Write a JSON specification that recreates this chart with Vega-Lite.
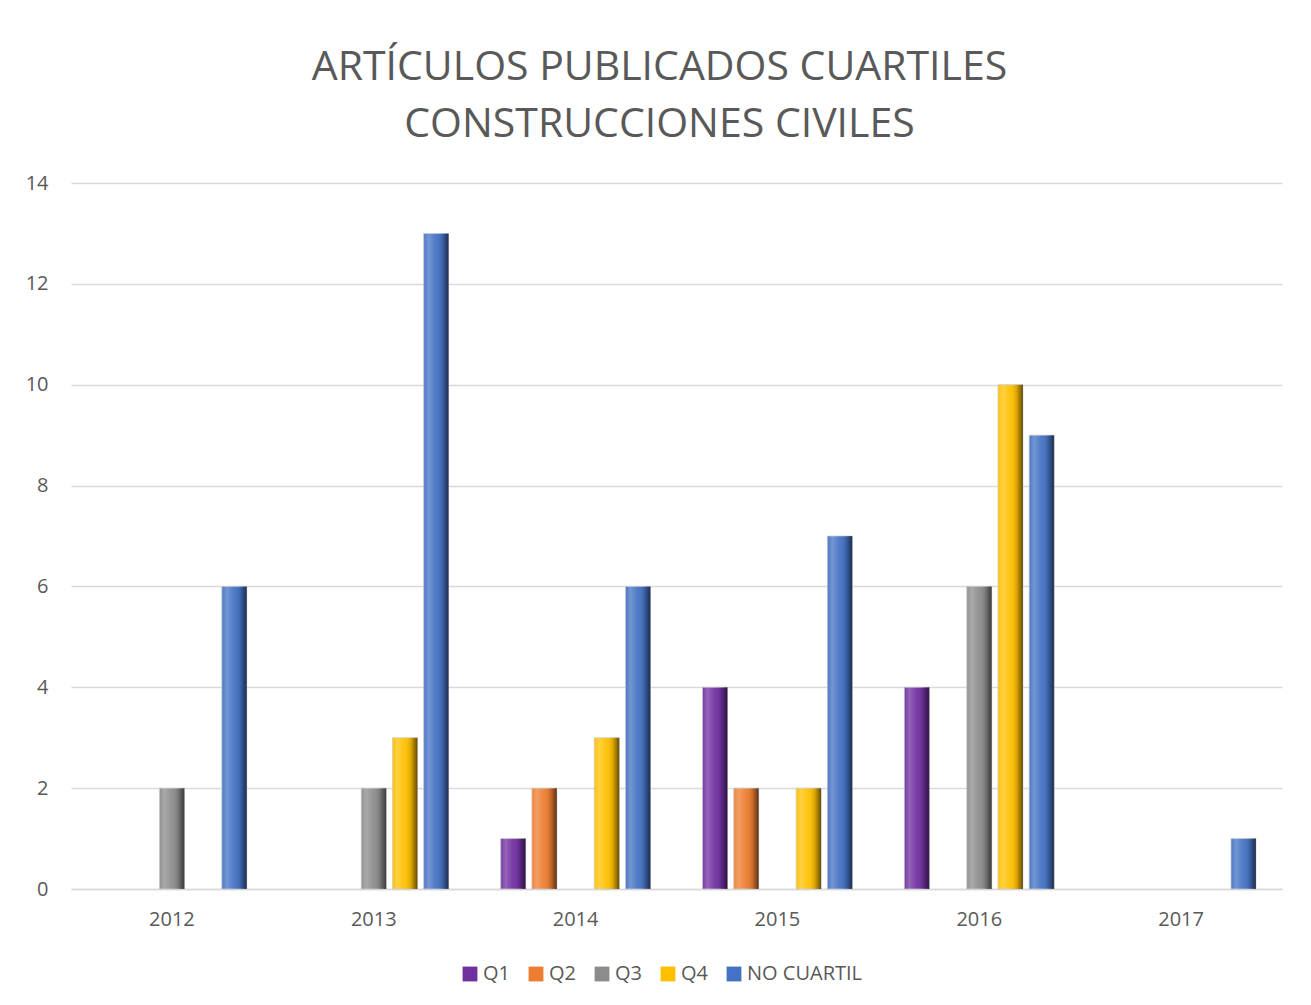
{
  "$schema": "https://vega.github.io/schema/vega-lite/v6.json",
  "autosize": {"type": "none"},
  "width": 1211,
  "height": 706,
  "padding": {"left": 71, "top": 183, "right": 29, "bottom": 116},
  "background": "white",
  "title": {
    "text": ["ARTÍCULOS PUBLICADOS CUARTILES", "CONSTRUCCIONES CIVILES"],
    "font": "Open Sans",
    "fontSize": 41,
    "fontWeight": "normal",
    "color": "#595959",
    "lineHeight": 57,
    "anchor": "middle",
    "dx": -17,
    "offset": 27
  },
  "data": {
    "values": [
      {"year": "2012", "series": "Q3", "value": 2},
      {"year": "2012", "series": "NO CUARTIL", "value": 6},
      {"year": "2013", "series": "Q3", "value": 2},
      {"year": "2013", "series": "Q4", "value": 3},
      {"year": "2013", "series": "NO CUARTIL", "value": 13},
      {"year": "2014", "series": "Q1", "value": 1},
      {"year": "2014", "series": "Q2", "value": 2},
      {"year": "2014", "series": "Q4", "value": 3},
      {"year": "2014", "series": "NO CUARTIL", "value": 6},
      {"year": "2015", "series": "Q1", "value": 4},
      {"year": "2015", "series": "Q2", "value": 2},
      {"year": "2015", "series": "Q4", "value": 2},
      {"year": "2015", "series": "NO CUARTIL", "value": 7},
      {"year": "2016", "series": "Q1", "value": 4},
      {"year": "2016", "series": "Q3", "value": 6},
      {"year": "2016", "series": "Q4", "value": 10},
      {"year": "2016", "series": "NO CUARTIL", "value": 9},
      {"year": "2017", "series": "NO CUARTIL", "value": 1}
    ]
  },
  "encoding": {
    "x": {
      "field": "year", "type": "nominal",
      "scale": {"paddingInner": 0.227, "paddingOuter": 0.1135},
      "axis": {
        "title": null, "labelAngle": 0, "ticks": false,
        "domainColor": "#d9d9d9", "domainWidth": 1.5,
        "labelFont": "Open Sans", "labelFontSize": 20, "labelColor": "#595959",
        "labelPadding": 20
      }
    },
    "xOffset": {
      "field": "series", "type": "nominal",
      "scale": {"domain": ["Q1", "Q2", "Q3", "Q4", "NO CUARTIL"], "paddingInner": 0.2, "paddingOuter": 0.1}
    },
    "y": {
      "field": "value", "type": "quantitative",
      "scale": {"domain": [0, 14]},
      "axis": {
        "title": null, "values": [0, 2, 4, 6, 8, 10, 12, 14],
        "domain": false, "ticks": false,
        "gridColor": "#d9d9d9", "gridWidth": 1.5,
        "labelFont": "Open Sans", "labelFontSize": 20, "labelColor": "#595959",
        "labelPadding": 23
      }
    }
  },
  "layer": [
    {
      "mark": {"type": "bar", "stroke": "#c8c8c8", "strokeWidth": 0.7},
      "encoding": {
        "color": {
          "field": "series", "type": "nominal",
          "scale": {
            "domain": ["Q1", "Q2", "Q3", "Q4", "NO CUARTIL"],
            "range": ["#7030A0", "#ED7D31", "#8C8C8C", "#FFC000", "#4472C4"]
          },
          "legend": {
            "title": null, "orient": "none", "direction": "horizontal",
            "legendX": 389, "legendY": 781,
            "symbolType": "square", "symbolSize": 220, "symbolStrokeWidth": 0,
            "labelFont": "Open Sans", "labelFontSize": 20, "labelColor": "#595959",
            "columnPadding": 16, "labelOffset": 3
          }
        }
      }
    },
    {
      "mark": {
        "type": "bar",
        "color": {
          "gradient": "linear", "x1": 0, "x2": 1, "y1": 0, "y2": 0,
          "stops": [
            {"offset": 0, "color": "rgba(255,255,255,0.05)"},
            {"offset": 0.2, "color": "rgba(255,255,255,0.25)"},
            {"offset": 0.5, "color": "rgba(255,255,255,0.05)"},
            {"offset": 0.75, "color": "rgba(0,0,0,0.15)"},
            {"offset": 1, "color": "rgba(0,0,0,0.6)"}
          ]
        }
      }
    }
  ],
  "config": {"view": {"stroke": null}}
}
